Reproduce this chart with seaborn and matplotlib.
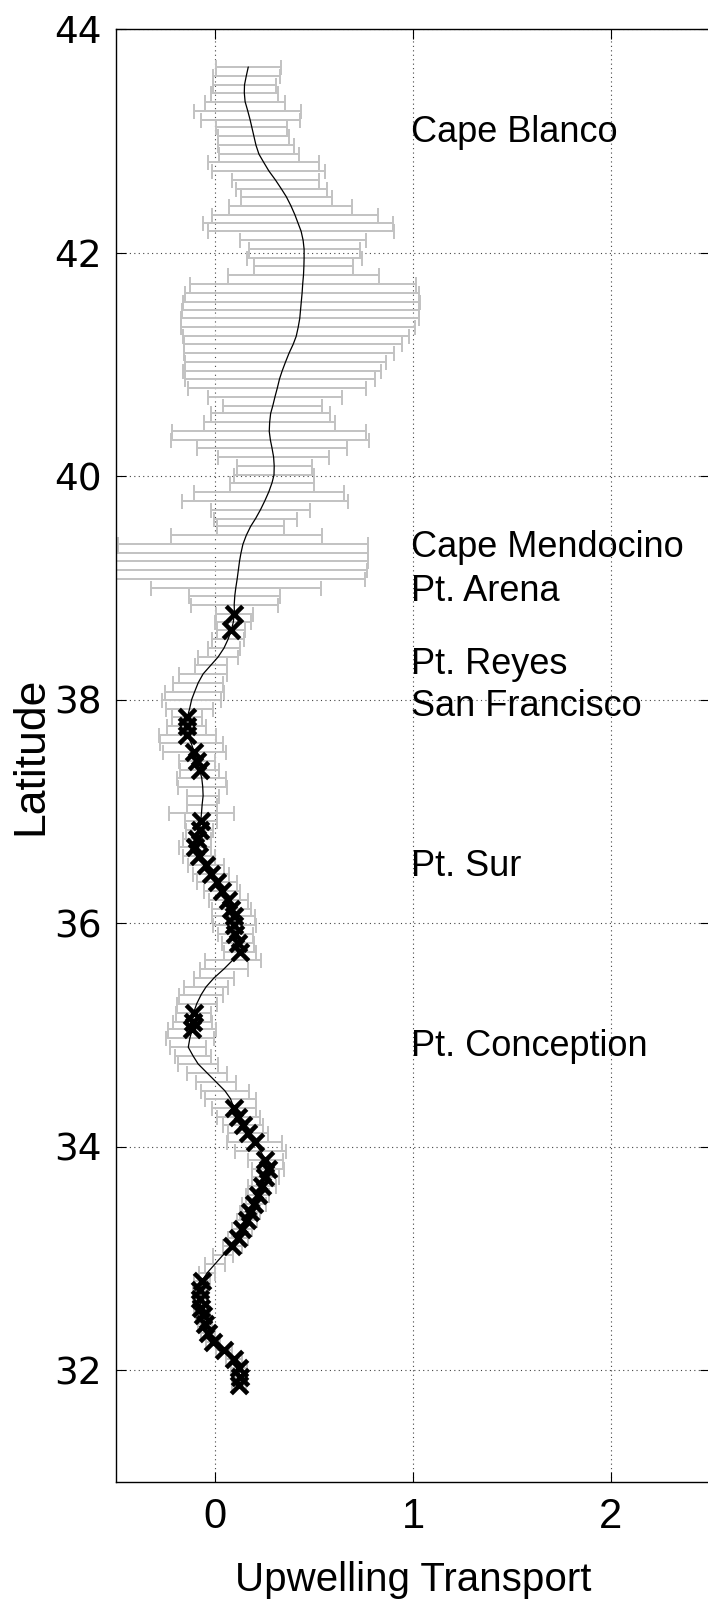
import numpy as np
import pandas as pd
import matplotlib
matplotlib.use("Agg")
import matplotlib.pyplot as plt
import seaborn as sns

# ---------------- data ----------------
lat = [
    43.66, 43.58, 43.50, 43.43, 43.35, 43.27, 43.19, 43.12, 43.04, 42.96,
    42.88, 42.81, 42.73, 42.65, 42.57, 42.50, 42.42, 42.34, 42.26, 42.19,
    42.11, 42.03, 41.95, 41.88, 41.80, 41.72, 41.64, 41.56, 41.49, 41.41,
    41.33, 41.25, 41.18, 41.10, 41.02, 40.94, 40.87, 40.79, 40.71, 40.63,
    40.56, 40.48, 40.40, 40.32, 40.25, 40.17, 40.09, 40.01, 39.94, 39.86,
    39.78, 39.70, 39.62, 39.55, 39.47, 39.39, 39.31, 39.24, 39.16, 39.08,
    39.00, 38.93, 38.85, 38.77, 38.69, 38.62, 38.54, 38.46, 38.38, 38.31,
    38.23, 38.15, 38.07, 38.00, 37.92, 37.84, 37.76, 37.68, 37.61, 37.53,
    37.45, 37.37, 37.30, 37.22, 37.14, 37.06, 36.99, 36.91, 36.83, 36.75,
    36.68, 36.60, 36.52, 36.44, 36.37, 36.29, 36.21, 36.13, 36.06, 35.98,
    35.90, 35.82, 35.74, 35.67, 35.59, 35.51, 35.43, 35.36, 35.28, 35.20,
    35.12, 35.05, 34.97, 34.89, 34.81, 34.74, 34.66, 34.58, 34.50, 34.43,
    34.35, 34.27, 34.19, 34.12, 34.04, 33.96, 33.88, 33.80, 33.73, 33.65,
    33.57, 33.49, 33.42, 33.34, 33.26, 33.18, 33.11, 33.03, 32.95, 32.87,
    32.80, 32.72, 32.64, 32.56, 32.49, 32.41, 32.33, 32.25, 32.18, 32.10,
    32.02, 31.94, 31.87,
]

transport = [
    0.168, 0.158, 0.149, 0.148, 0.152, 0.165, 0.177, 0.186, 0.196, 0.207,
    0.222, 0.245, 0.272, 0.305, 0.335, 0.360, 0.383, 0.403, 0.420, 0.435,
    0.445, 0.450, 0.450, 0.449, 0.447, 0.443, 0.440, 0.436, 0.432, 0.428,
    0.420, 0.410, 0.395, 0.374, 0.356, 0.339, 0.326, 0.315, 0.303, 0.292,
    0.281, 0.276, 0.274, 0.280, 0.288, 0.296, 0.299, 0.298, 0.288, 0.272,
    0.252, 0.230, 0.205, 0.180, 0.158, 0.141, 0.131, 0.124, 0.118, 0.112,
    0.105, 0.100, 0.097, 0.098, 0.092, 0.082, 0.066, 0.045, 0.015, -0.020,
    -0.060, -0.085, -0.103, -0.118, -0.128, -0.140, -0.143, -0.140, -0.120, -0.105,
    -0.090, -0.078, -0.067, -0.062, -0.060, -0.065, -0.068, -0.072, -0.078, -0.090,
    -0.100, -0.080, -0.045, -0.020, 0.010, 0.035, 0.068, 0.083, 0.094, 0.098,
    0.103, 0.115, 0.125, 0.090, 0.045, -0.005, -0.045, -0.070, -0.092, -0.108,
    -0.113, -0.115, -0.127, -0.135, -0.110, -0.085, -0.040, 0.005, 0.050, 0.078,
    0.095, 0.118, 0.140, 0.168, 0.200, 0.230, 0.255, 0.268, 0.255, 0.238,
    0.215, 0.198, 0.178, 0.160, 0.135, 0.115, 0.088, 0.040, 0.000, -0.040,
    -0.065, -0.075, -0.076, -0.070, -0.060, -0.050, -0.035, -0.008, 0.045, 0.095,
    0.120, 0.124, 0.120,
]

spread = [
    0.165, 0.170, 0.160, 0.170, 0.200, 0.270, 0.250, 0.180, 0.180, 0.190,
    0.200, 0.280, 0.285, 0.220, 0.230, 0.230, 0.310, 0.420, 0.480, 0.470,
    0.320, 0.280, 0.290, 0.250, 0.380, 0.570, 0.590, 0.600, 0.600, 0.600,
    0.590, 0.570, 0.550, 0.530, 0.510, 0.500, 0.480, 0.450, 0.340, 0.250,
    0.300, 0.330, 0.490, 0.500, 0.380, 0.280, 0.190, 0.200, 0.210, 0.380,
    0.420, 0.250, 0.210, 0.170, 0.380, 0.630, 0.640, 0.650, 0.650, 0.645,
    0.430, 0.230, 0.220, 0.095, 0.090, 0.070, 0.080, 0.080, 0.100, 0.080,
    0.120, 0.125, 0.150, 0.150, 0.120, 0.075, 0.100, 0.145, 0.160, 0.160,
    0.090, 0.100, 0.125, 0.125, 0.080, 0.075, 0.165, 0.080, 0.070, 0.070,
    0.080, 0.080, 0.090, 0.090, 0.100, 0.090, 0.100, 0.100, 0.110, 0.110,
    0.090, 0.080, 0.080, 0.140, 0.120, 0.100, 0.110, 0.110, 0.100, 0.090,
    0.100, 0.120, 0.120, 0.090, 0.090, 0.100, 0.100, 0.100, 0.120, 0.130,
    0.110, 0.110, 0.100, 0.100, 0.140, 0.130, 0.090, 0.080, 0.070, 0.070,
    0.060, 0.060, 0.050, 0.050, 0.050, 0.050, 0.050, 0.050, 0.050, 0.040,
    0.040, 0.035, 0.035, 0.035, 0.035, 0.035, 0.035, 0.035, 0.040, 0.040,
    0.040, 0.040, 0.035,
]

marked = [
    0, 0, 0, 0, 0, 0, 0, 0, 0, 0,
    0, 0, 0, 0, 0, 0, 0, 0, 0, 0,
    0, 0, 0, 0, 0, 0, 0, 0, 0, 0,
    0, 0, 0, 0, 0, 0, 0, 0, 0, 0,
    0, 0, 0, 0, 0, 0, 0, 0, 0, 0,
    0, 0, 0, 0, 0, 0, 0, 0, 0, 0,
    0, 0, 0, 1, 0, 1, 0, 0, 0, 0,
    0, 0, 0, 0, 0, 1, 1, 1, 0, 1,
    1, 1, 0, 0, 0, 0, 0, 1, 1, 1,
    1, 1, 1, 1, 1, 1, 1, 1, 1, 1,
    1, 1, 1, 0, 0, 0, 0, 0, 0, 1,
    1, 1, 0, 0, 0, 0, 0, 0, 0, 0,
    1, 1, 1, 1, 1, 0, 1, 1, 1, 1,
    1, 1, 1, 1, 1, 1, 1, 0, 0, 0,
    1, 1, 1, 1, 1, 1, 1, 1, 1, 1,
    1, 1, 1,
]

places = ["Cape Blanco", "Cape Mendocino", "Pt. Arena", "Pt. Reyes",
          "San Francisco", "Pt. Sur", "Pt. Conception"]
place_lat = [43.07, 39.36, 38.97, 38.31, 37.94, 36.51, 34.90]
place_x = 0.99

x_ticks = [0, 1, 2]
y_ticks = [32, 34, 36, 38, 40, 42, 44]

df = pd.DataFrame({"lat": lat, "transport": transport,
                   "spread": spread, "marked": marked})

# ---------------- style ----------------
sns.set_theme(style="white")
plt.rcParams["font.family"] = ["Liberation Sans", "DejaVu Sans"]

W, H = 708, 1602
fig = plt.figure(figsize=(W / 100, H / 100), dpi=100)
ax = fig.add_axes([116 / W, 1 - 1482 / H, (710 - 116) / W, (1482 - 29) / H])

# error bars
ax.errorbar(df["transport"], df["lat"], xerr=df["spread"], fmt="none",
            ecolor="#c2c2c2", elinewidth=1.4, capsize=5.4, capthick=1.4,
            zorder=2)
# mean profile
sns.lineplot(data=df, x="transport", y="lat", sort=False, estimator=None,
             color="black", linewidth=0.9, ax=ax, zorder=3)
# significant points
sns.scatterplot(data=df[df["marked"] == 1], x="transport", y="lat",
                marker="x", color="black", s=140, linewidth=3.3,
                ax=ax, zorder=4, legend=False)

for name, la in zip(places, place_lat):
    ax.text(place_x, la, name, fontsize=26, ha="left", va="center",
            color="black", zorder=5)

ax.set_xlim(-0.5, 2.5)
ax.set_ylim(31, 44)
ax.set_xticks(x_ticks)
ax.set_yticks(y_ticks)
ax.set_xticklabels([str(v) for v in x_ticks])
ax.set_yticklabels([str(v) for v in y_ticks])

ax.grid(True, linestyle=(0, (1, 3)), color="#444444", linewidth=0.8)
ax.set_axisbelow(True)
for s in ax.spines.values():
    s.set_visible(True)
    s.set_color("black")
    s.set_linewidth(1.0)

ax.tick_params(axis="both", direction="in", length=7, width=0.8,
               bottom=True, left=True, top=True, right=True, colors="black")
ax.tick_params(axis="x", pad=11, labelsize=30)
ax.tick_params(axis="y", pad=10, labelsize=27)
for lbl in ax.get_yticklabels():
    lbl.set_fontfamily("DejaVu Sans")

ax.set_xlabel("Upwelling Transport", fontsize=29, color="black", labelpad=17)
ax.set_ylabel("Latitude", fontsize=32, color="black", va="center")
ax.yaxis.set_label_coords(-0.143, 0.5)

fig.savefig("out.png", dpi=100)
